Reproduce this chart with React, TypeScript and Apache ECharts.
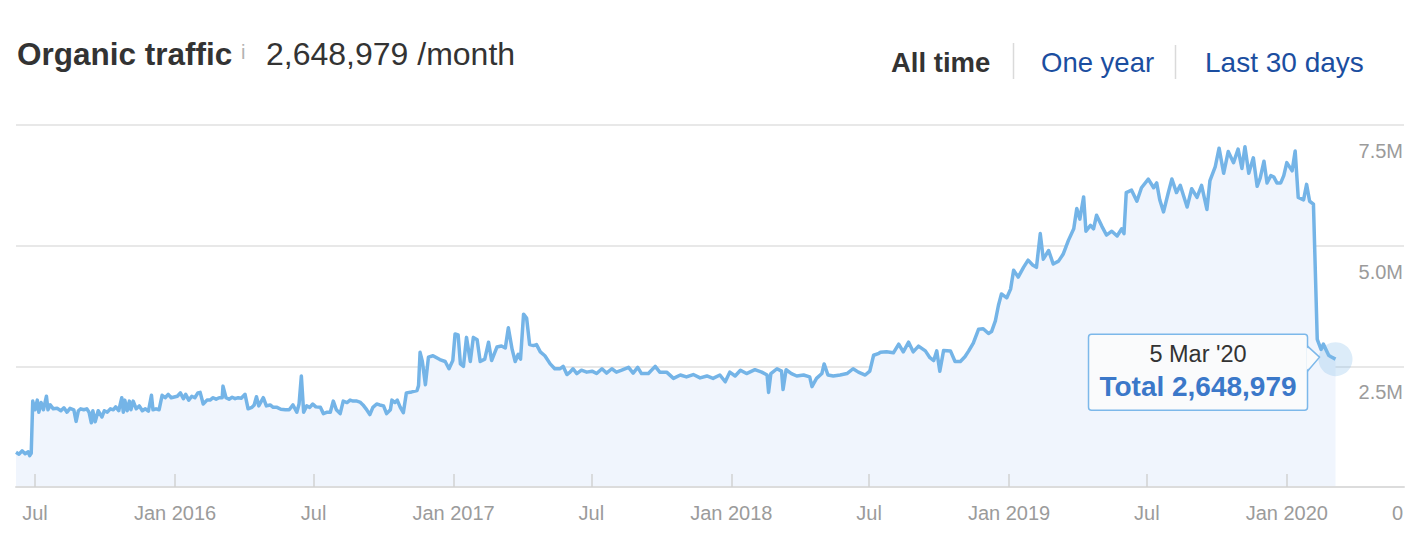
import React, { useEffect, useRef } from "react";
import * as echarts from "echarts";

type Pt = [string, number];

const traffic2015: Pt[] = [
  ["2015-06-06", 720000], ["2015-06-10", 680000], ["2015-06-14", 750000], ["2015-06-18", 690000],
  ["2015-06-22", 730000], ["2015-06-24", 650000], ["2015-06-26", 700000], ["2015-06-28", 1780000],
  ["2015-07-01", 1600000], ["2015-07-04", 1800000], ["2015-07-06", 1550000], ["2015-07-09", 1750000],
  ["2015-07-12", 1600000], ["2015-07-16", 1880000], ["2015-07-18", 1600000], ["2015-07-21", 1700000],
  ["2015-07-25", 1620000], ["2015-07-30", 1630000], ["2015-08-04", 1580000], ["2015-08-08", 1640000],
  ["2015-08-12", 1550000], ["2015-08-16", 1630000], ["2015-08-21", 1600000], ["2015-08-24", 1360000],
  ["2015-08-27", 1580000], ["2015-08-30", 1620000], ["2015-09-03", 1600000], ["2015-09-07", 1620000],
  ["2015-09-10", 1550000], ["2015-09-13", 1330000], ["2015-09-15", 1580000], ["2015-09-18", 1350000],
  ["2015-09-22", 1580000], ["2015-09-27", 1450000], ["2015-09-30", 1580000], ["2015-10-04", 1550000],
  ["2015-10-08", 1620000], ["2015-10-12", 1600000], ["2015-10-15", 1660000], ["2015-10-19", 1580000],
  ["2015-10-23", 1850000], ["2015-10-25", 1550000], ["2015-10-27", 1800000], ["2015-10-30", 1580000],
  ["2015-11-02", 1780000], ["2015-11-04", 1600000], ["2015-11-07", 1780000], ["2015-11-11", 1620000],
  ["2015-11-15", 1680000], ["2015-11-19", 1580000], ["2015-11-23", 1620000], ["2015-11-27", 1570000],
  ["2015-12-01", 1900000], ["2015-12-03", 1600000], ["2015-12-07", 1620000], ["2015-12-11", 1600000],
  ["2015-12-15", 1900000], ["2015-12-19", 1850000], ["2015-12-23", 1920000], ["2015-12-27", 1850000],
];

const traffic2016: Pt[] = [
  ["2016-01-04", 1880000], ["2016-01-08", 1950000], ["2016-01-12", 1830000], ["2016-01-15", 1920000],
  ["2016-01-19", 1800000], ["2016-01-23", 1880000], ["2016-01-27", 1850000], ["2016-01-31", 1950000],
  ["2016-02-03", 1960000], ["2016-02-07", 1720000], ["2016-02-12", 1800000], ["2016-02-16", 1800000],
  ["2016-02-20", 1850000], ["2016-02-24", 1820000], ["2016-02-28", 1850000], ["2016-03-03", 1850000],
  ["2016-03-04", 2090000], ["2016-03-08", 1850000], ["2016-03-12", 1820000], ["2016-03-16", 1860000],
  ["2016-03-20", 1830000], ["2016-03-24", 1850000], ["2016-03-28", 1840000], ["2016-04-02", 1920000],
  ["2016-04-06", 1620000], ["2016-04-11", 1650000], ["2016-04-14", 1700000], ["2016-04-17", 1870000],
  ["2016-04-20", 1680000], ["2016-04-26", 1850000], ["2016-04-30", 1680000], ["2016-05-05", 1700000],
  ["2016-05-09", 1650000], ["2016-05-14", 1650000], ["2016-05-19", 1610000], ["2016-05-25", 1600000],
  ["2016-05-30", 1600000], ["2016-06-04", 1700000], ["2016-06-09", 1550000], ["2016-06-12", 1720000],
  ["2016-06-15", 2300000], ["2016-06-18", 1550000], ["2016-06-22", 1680000], ["2016-06-26", 1650000],
  ["2016-06-30", 1720000], ["2016-07-04", 1660000], ["2016-07-10", 1650000], ["2016-07-14", 1520000],
  ["2016-07-19", 1550000], ["2016-07-23", 1550000], ["2016-07-27", 1780000], ["2016-07-31", 1600000],
  ["2016-08-05", 1520000], ["2016-08-09", 1780000], ["2016-08-14", 1750000], ["2016-08-18", 1800000],
  ["2016-08-22", 1780000], ["2016-08-27", 1780000], ["2016-08-31", 1760000], ["2016-09-04", 1700000],
  ["2016-09-08", 1620000], ["2016-09-13", 1500000], ["2016-09-17", 1650000], ["2016-09-22", 1720000],
  ["2016-09-26", 1700000], ["2016-10-01", 1680000], ["2016-10-05", 1520000], ["2016-10-10", 1600000],
  ["2016-10-12", 1800000], ["2016-10-16", 1750000], ["2016-10-19", 1800000], ["2016-10-23", 1650000],
  ["2016-10-27", 1540000], ["2016-10-31", 1950000], ["2016-11-07", 1970000], ["2016-11-14", 2000000],
  ["2016-11-16", 2100000], ["2016-11-18", 2790000], ["2016-11-21", 2600000], ["2016-11-25", 2120000],
  ["2016-11-29", 2690000], ["2016-12-05", 2720000], ["2016-12-14", 2640000], ["2016-12-21", 2600000],
  ["2016-12-26", 2450000], ["2016-12-31", 2620000],
];

const traffic2017: Pt[] = [
  ["2017-01-03", 3170000], ["2017-01-07", 3150000], ["2017-01-10", 2550000], ["2017-01-14", 2500000],
  ["2017-01-18", 3100000], ["2017-01-23", 2600000], ["2017-01-27", 3100000], ["2017-02-01", 3050000],
  ["2017-02-05", 2600000], ["2017-02-11", 2650000], ["2017-02-16", 3000000], ["2017-02-20", 2620000],
  ["2017-02-27", 2900000], ["2017-03-05", 2920000], ["2017-03-10", 2880000], ["2017-03-14", 3300000],
  ["2017-03-19", 2850000], ["2017-03-23", 2600000], ["2017-03-27", 2750000], ["2017-03-30", 2650000],
  ["2017-04-03", 3580000], ["2017-04-07", 3500000], ["2017-04-11", 2950000], ["2017-04-16", 2930000],
  ["2017-04-20", 2950000], ["2017-04-25", 2800000], ["2017-05-01", 2720000], ["2017-05-08", 2550000],
  ["2017-05-14", 2450000], ["2017-05-21", 2450000], ["2017-05-25", 2500000], ["2017-05-30", 2330000],
  ["2017-06-03", 2380000], ["2017-06-07", 2450000], ["2017-06-12", 2350000], ["2017-06-18", 2420000],
  ["2017-06-25", 2380000], ["2017-07-02", 2400000], ["2017-07-08", 2350000], ["2017-07-15", 2450000],
  ["2017-07-21", 2360000], ["2017-07-28", 2450000], ["2017-08-03", 2380000], ["2017-08-10", 2420000],
  ["2017-08-19", 2480000], ["2017-08-25", 2360000], ["2017-08-31", 2480000], ["2017-09-05", 2350000],
  ["2017-09-14", 2350000], ["2017-09-23", 2500000], ["2017-09-29", 2380000], ["2017-10-08", 2380000],
  ["2017-10-17", 2250000], ["2017-10-26", 2320000], ["2017-11-03", 2280000], ["2017-11-12", 2330000],
  ["2017-11-21", 2260000], ["2017-11-30", 2300000], ["2017-12-08", 2250000], ["2017-12-17", 2320000],
  ["2017-12-24", 2180000], ["2017-12-30", 2380000],
];

const traffic2018: Pt[] = [
  ["2018-01-06", 2300000], ["2018-01-13", 2420000], ["2018-01-21", 2350000], ["2018-02-01", 2430000],
  ["2018-02-10", 2380000], ["2018-02-17", 2320000], ["2018-02-19", 1960000], ["2018-02-22", 2350000],
  ["2018-03-02", 2450000], ["2018-03-08", 2400000], ["2018-03-10", 2020000], ["2018-03-14", 2430000],
  ["2018-03-21", 2350000], ["2018-03-28", 2300000], ["2018-04-06", 2320000], ["2018-04-14", 2280000],
  ["2018-04-17", 2080000], ["2018-04-23", 2250000], ["2018-04-30", 2350000], ["2018-05-03", 2550000],
  ["2018-05-08", 2320000], ["2018-05-15", 2300000], ["2018-05-24", 2320000], ["2018-06-02", 2350000],
  ["2018-06-10", 2450000], ["2018-06-17", 2380000], ["2018-06-26", 2320000], ["2018-07-02", 2400000],
  ["2018-07-07", 2730000], ["2018-07-14", 2770000], ["2018-07-16", 2790000], ["2018-07-24", 2800000],
  ["2018-08-02", 2780000], ["2018-08-09", 2960000], ["2018-08-15", 2800000], ["2018-08-22", 3000000],
  ["2018-08-28", 2800000], ["2018-09-04", 2920000], ["2018-09-13", 2820000], ["2018-09-19", 2680000],
  ["2018-09-24", 2620000], ["2018-09-28", 2820000], ["2018-10-02", 2400000], ["2018-10-07", 2830000],
  ["2018-10-16", 2820000], ["2018-10-22", 2600000], ["2018-10-29", 2600000], ["2018-11-04", 2700000],
  ["2018-11-09", 2820000], ["2018-11-15", 2980000], ["2018-11-22", 3270000], ["2018-11-28", 3280000],
  ["2018-12-05", 3180000], ["2018-12-09", 3220000], ["2018-12-14", 3440000], ["2018-12-18", 3760000],
  ["2018-12-22", 4000000], ["2018-12-29", 3920000],
];

const traffic2019: Pt[] = [
  ["2019-01-03", 4100000], ["2019-01-07", 4490000], ["2019-01-13", 4350000], ["2019-01-20", 4550000],
  ["2019-01-26", 4700000], ["2019-02-01", 4600000], ["2019-02-06", 4550000], ["2019-02-11", 5250000],
  ["2019-02-15", 4720000], ["2019-02-22", 4900000], ["2019-02-28", 4620000], ["2019-03-07", 4680000],
  ["2019-03-13", 4820000], ["2019-03-20", 5110000], ["2019-03-27", 5350000], ["2019-03-31", 5770000],
  ["2019-04-04", 5550000], ["2019-04-09", 6010000], ["2019-04-12", 5300000], ["2019-04-18", 5420000],
  ["2019-04-22", 5350000], ["2019-04-26", 5630000], ["2019-05-03", 5400000], ["2019-05-09", 5220000],
  ["2019-05-16", 5300000], ["2019-05-23", 5200000], ["2019-05-29", 5350000], ["2019-06-01", 5250000],
  ["2019-06-04", 6100000], ["2019-06-11", 6150000], ["2019-06-18", 5920000], ["2019-06-24", 6200000],
  ["2019-07-03", 6380000], ["2019-07-10", 6200000], ["2019-07-14", 6300000], ["2019-07-18", 5950000],
  ["2019-07-23", 5700000], ["2019-07-29", 6080000], ["2019-08-03", 6380000], ["2019-08-09", 6100000],
  ["2019-08-14", 6250000], ["2019-08-18", 6050000], ["2019-08-23", 5800000], ["2019-08-29", 6180000],
  ["2019-09-05", 6000000], ["2019-09-11", 6250000], ["2019-09-18", 5750000], ["2019-09-22", 6350000],
  ["2019-09-29", 6640000], ["2019-10-04", 7020000], ["2019-10-10", 6500000], ["2019-10-16", 6950000],
  ["2019-10-23", 6720000], ["2019-10-29", 7000000], ["2019-11-03", 6600000], ["2019-11-07", 7050000],
  ["2019-11-12", 6500000], ["2019-11-18", 6820000], ["2019-11-23", 6230000], ["2019-11-27", 6400000],
  ["2019-12-02", 6750000], ["2019-12-06", 6300000], ["2019-12-11", 6450000], ["2019-12-15", 6420000],
  ["2019-12-19", 6300000], ["2019-12-24", 6300000], ["2019-12-28", 6450000],
];

const traffic2020: Pt[] = [
  ["2020-01-01", 6720000], ["2020-01-08", 6550000], ["2020-01-12", 6960000], ["2020-01-16", 6000000],
  ["2020-01-23", 5950000], ["2020-01-27", 6270000], ["2020-01-31", 5920000], ["2020-02-05", 5860000],
  ["2020-02-10", 3060000], ["2020-02-15", 2850000], ["2020-02-18", 2960000], ["2020-02-25", 2730000],
  ["2020-02-28", 2700000], ["2020-03-05", 2648979],
];

const xTickDates = [
  "2015-07-01", "2016-01-01", "2016-07-01", "2017-01-01", "2017-07-01",
  "2018-01-01", "2018-07-01", "2019-01-01", "2019-07-01", "2020-01-01",
];
const yTicks = [0, 2500000, 5000000, 7500000];
const xRange = ["2015-06-06", "2020-06-03"];

const headerTitle = "Organic traffic";
const headerValue = "2,648,979 /month";
const rangeLinks = ["All time", "One year", "Last 30 days"];
const tooltipDate = "5 Mar '20";
const tooltipTotal = "Total 2,648,979";

const FONT = "'Liberation Sans', Arial, Helvetica, sans-serif";

function toTs(s: string): number {
  const [y, m, d] = s.split("-").map(Number);
  return new Date(y, m - 1, d).getTime();
}

export default function App() {
  const ref = useRef<HTMLDivElement>(null);

  useEffect(() => {
    document.body.style.margin = "0";
    if (!ref.current) return;
    const chart = echarts.init(ref.current, undefined, { renderer: "svg" });
    const raw = [
      ...traffic2015, ...traffic2016, ...traffic2017,
      ...traffic2018, ...traffic2019, ...traffic2020,
    ];
    const data = raw.map(([d, v]) => [toTs(d), v]);
    const last = data[data.length - 1];
    const tickTs = xTickDates.map(toTs);

    chart.setOption({
      animation: false,
      textStyle: { fontFamily: FONT },
      grid: { left: 16, right: 22, top: 125, bottom: 65 },
      xAxis: {
        type: "value",
        z: 5,
        min: toTs(xRange[0]),
        max: toTs(xRange[1]),
        axisLine: { show: true, lineStyle: { color: "#dcdcdc", width: 2 } },
        axisTick: {
          show: true,
          inside: true,
          length: 13,
          customValues: tickTs,
          lineStyle: { color: "#d2d2d2", width: 1.5 },
        },
        axisLabel: {
          customValues: tickTs,
          margin: 16,
          fontSize: 20,
          color: "#9b9b9b",
          fontFamily: FONT,
          showMinLabel: true,
          showMaxLabel: true,
          formatter: (v: number) => {
            const d = new Date(v);
            return d.getMonth() === 0 ? "Jan " + d.getFullYear() : "Jul";
          },
        },
        splitLine: { show: false },
      },
      yAxis: {
        type: "value",
        position: "right",
        min: yTicks[0],
        max: yTicks[yTicks.length - 1],
        interval: yTicks[1] - yTicks[0],
        axisLine: { show: false },
        axisTick: { show: false },
        axisLabel: {
          inside: true,
          margin: 1,
          fontSize: 20,
          color: "#9b9b9b",
          fontFamily: FONT,
          verticalAlign: "top",
          padding: [16, 0, 0, 0],
          formatter: (v: number) => (v === 0 ? "0" : (v / 1000000).toFixed(1) + "M"),
        },
        splitLine: { show: true, lineStyle: { color: "#e8e8e8", width: 2 } },
      },
      series: [
        {
          type: "line",
          data,
          showSymbol: false,
          symbol: "none",
          lineStyle: { color: "#74b4e7", width: 3.5, join: "round" },
          areaStyle: { color: "#f0f5fd", opacity: 1 },
          markPoint: {
            symbol: "circle",
            symbolSize: 34,
            label: { show: false },
            itemStyle: { color: "rgba(130,185,235,0.28)" },
            data: [{ coord: [last[0], last[1]] }],
          },
        },
      ],
    });

    const [px, py] = chart.convertToPixel({ seriesIndex: 0 }, [last[0], last[1]]) as number[];
    const boxR = px - 28;
    const boxW = 219;
    const boxL = boxR - boxW;
    const boxT = py - 25;
    const boxH = 76;
    const tipX = px - 16;
    const tipY = py - 2;
    const borderColor = "#7cb8ea";

    chart.setOption({
      graphic: [
        { type: "text", left: 17, top: 38, style: { text: headerTitle, font: `bold 31.5px ${FONT}`, fill: "#333" } },
        { type: "text", left: 241, top: 42, style: { text: "i", font: `20px ${FONT}`, fill: "#b2b2b2" } },
        { type: "text", left: 266, top: 38, style: { text: headerValue, font: `32px ${FONT}`, fill: "#333" } },
        { type: "text", left: 891, top: 48, style: { text: rangeLinks[0], font: `bold 27.5px ${FONT}`, fill: "#333" } },
        { type: "line", shape: { x1: 1013.5, y1: 43, x2: 1013.5, y2: 79 }, style: { stroke: "#dadada", lineWidth: 1.5 } },
        { type: "text", left: 1041, top: 48, style: { text: rangeLinks[1], font: `27.5px ${FONT}`, fill: "#1b4ea0" } },
        { type: "line", shape: { x1: 1175.5, y1: 45, x2: 1175.5, y2: 79 }, style: { stroke: "#dadada", lineWidth: 1.5 } },
        { type: "text", left: 1205, top: 48, style: { text: rangeLinks[2], font: `28px ${FONT}`, fill: "#1b4ea0" } },
        {
          type: "rect",
          shape: { x: boxL, y: boxT, width: boxW, height: boxH, r: 3 },
          style: { fill: "#fafbfc", stroke: borderColor, lineWidth: 1.5 },
          z: 100,
        },
        {
          type: "polygon",
          shape: { points: [[boxR - 1, boxT + 13], [tipX, tipY], [boxR - 1, boxT + 36]] },
          style: { fill: "#fafbfc" },
          z: 101,
        },
        {
          type: "polyline",
          shape: { points: [[boxR, boxT + 12], [tipX, tipY], [boxR, boxT + 37]] },
          style: { stroke: borderColor, lineWidth: 1.5, fill: null },
          z: 101,
        },
        {
          type: "text",
          x: boxL + boxW / 2,
          y: py - 5,
          style: { text: tooltipDate, font: `23.5px ${FONT}`, fill: "#333", align: "center", verticalAlign: "middle" },
          z: 102,
        },
        {
          type: "text",
          x: boxL + boxW / 2,
          y: py + 27,
          style: { text: tooltipTotal, font: `bold 28px ${FONT}`, fill: "#3b78c9", align: "center", verticalAlign: "middle" },
          z: 102,
        },
      ],
    });

    return () => chart.dispose();
  }, []);

  return <div ref={ref} style={{ width: 1426, height: 552 }} />;
}
